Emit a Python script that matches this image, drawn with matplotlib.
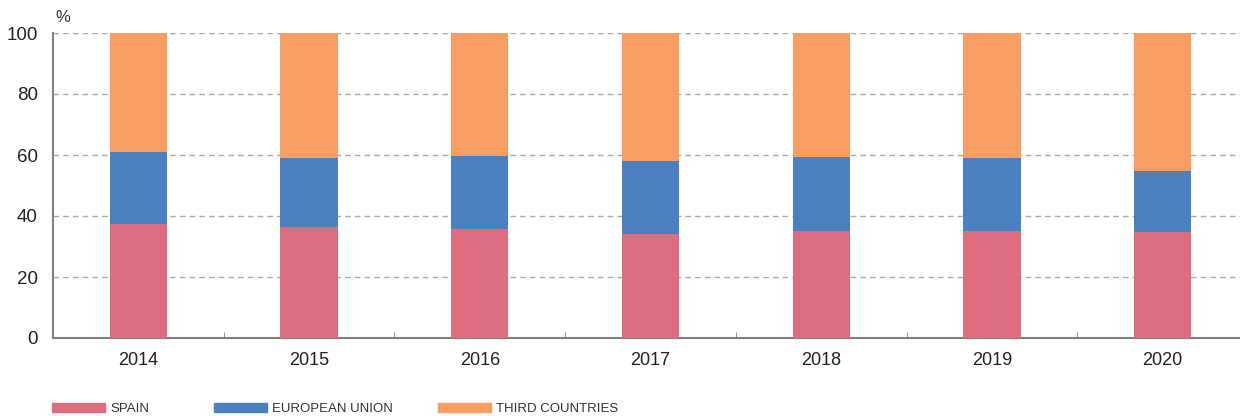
import numpy as np
import matplotlib
matplotlib.use("Agg")
import matplotlib.pyplot as plt
from matplotlib.patches import Patch

plt.rcParams["font.family"] = ["Liberation Sans", "DejaVu Sans"]

years = ["2014", "2015", "2016", "2017", "2018", "2019", "2020"]
spain = [37.4, 36.4, 35.7, 34.1, 35.1, 35.1, 34.8]
eu = [23.6, 22.5, 24.0, 23.9, 24.2, 23.9, 20.0]
third = [100 - s - e for s, e in zip(spain, eu)]

c_spain = "#dc6e7f"
c_eu = "#4a80c0"
c_third = "#f79e64"
grey = "#7f7f7f"

fig = plt.figure(figsize=(12.4, 4.16), dpi=100)
ax = fig.add_axes([53 / 1240, 1 - 338 / 416, 1195 / 1240, 305 / 416])

x = np.arange(len(years))
w = 0.335
ax.bar(x, spain, w, color=c_spain, zorder=3)
ax.bar(x, eu, w, bottom=spain, color=c_eu, zorder=3)
ax.bar(x, third, w, bottom=np.add(spain, eu), color=c_third, zorder=3)

ax.set_xlim(-0.5, len(years) - 0.5)
ax.set_ylim(0, 100)
ax.set_yticks(range(0, 101, 20))
ax.tick_params(axis="y", length=0, labelsize=13.5, pad=11, colors="#222222")
ax.set_xticks(x)
ax.set_xticklabels(years)
ax.tick_params(axis="x", length=0, labelsize=13, pad=10, colors="#222222")
ax.set_xticks(np.arange(0.5, len(years) - 1, 1), minor=True)
ax.tick_params(axis="x", which="minor", direction="in", length=4, color=grey)

for v in range(20, 101, 20):
    ax.axhline(v, color="#aaaaaa", linestyle=(0, (4, 3)), linewidth=1, zorder=1)

for s in ["top", "right"]:
    ax.spines[s].set_visible(False)
ax.spines["left"].set_color(grey)
ax.spines["bottom"].set_color(grey)
ax.spines["left"].set_linewidth(1.5)
ax.spines["bottom"].set_linewidth(1.5)

fig.text(55 / 1240, 1 - 18 / 416, "%", fontsize=12, color="#333333", va="center")

# one legend per entry so each sits where the reference has it
labels = ["SPAIN", "EUROPEAN UNION", "THIRD COUNTRIES"]
colors = [c_spain, c_eu, c_third]
starts = [52, 214, 438]
for lab, col, px in zip(labels, colors, starts):
    leg = fig.legend([Patch(color=col)], [lab], loc="center left",
                     bbox_to_anchor=(px / 1240, 1 - 409 / 416), frameon=False,
                     fontsize=9.5, handlelength=4.0, handleheight=0.75,
                     handletextpad=0.4, borderpad=0, borderaxespad=0,
                     labelcolor="#333333")

fig.savefig("out.png", dpi=100)
